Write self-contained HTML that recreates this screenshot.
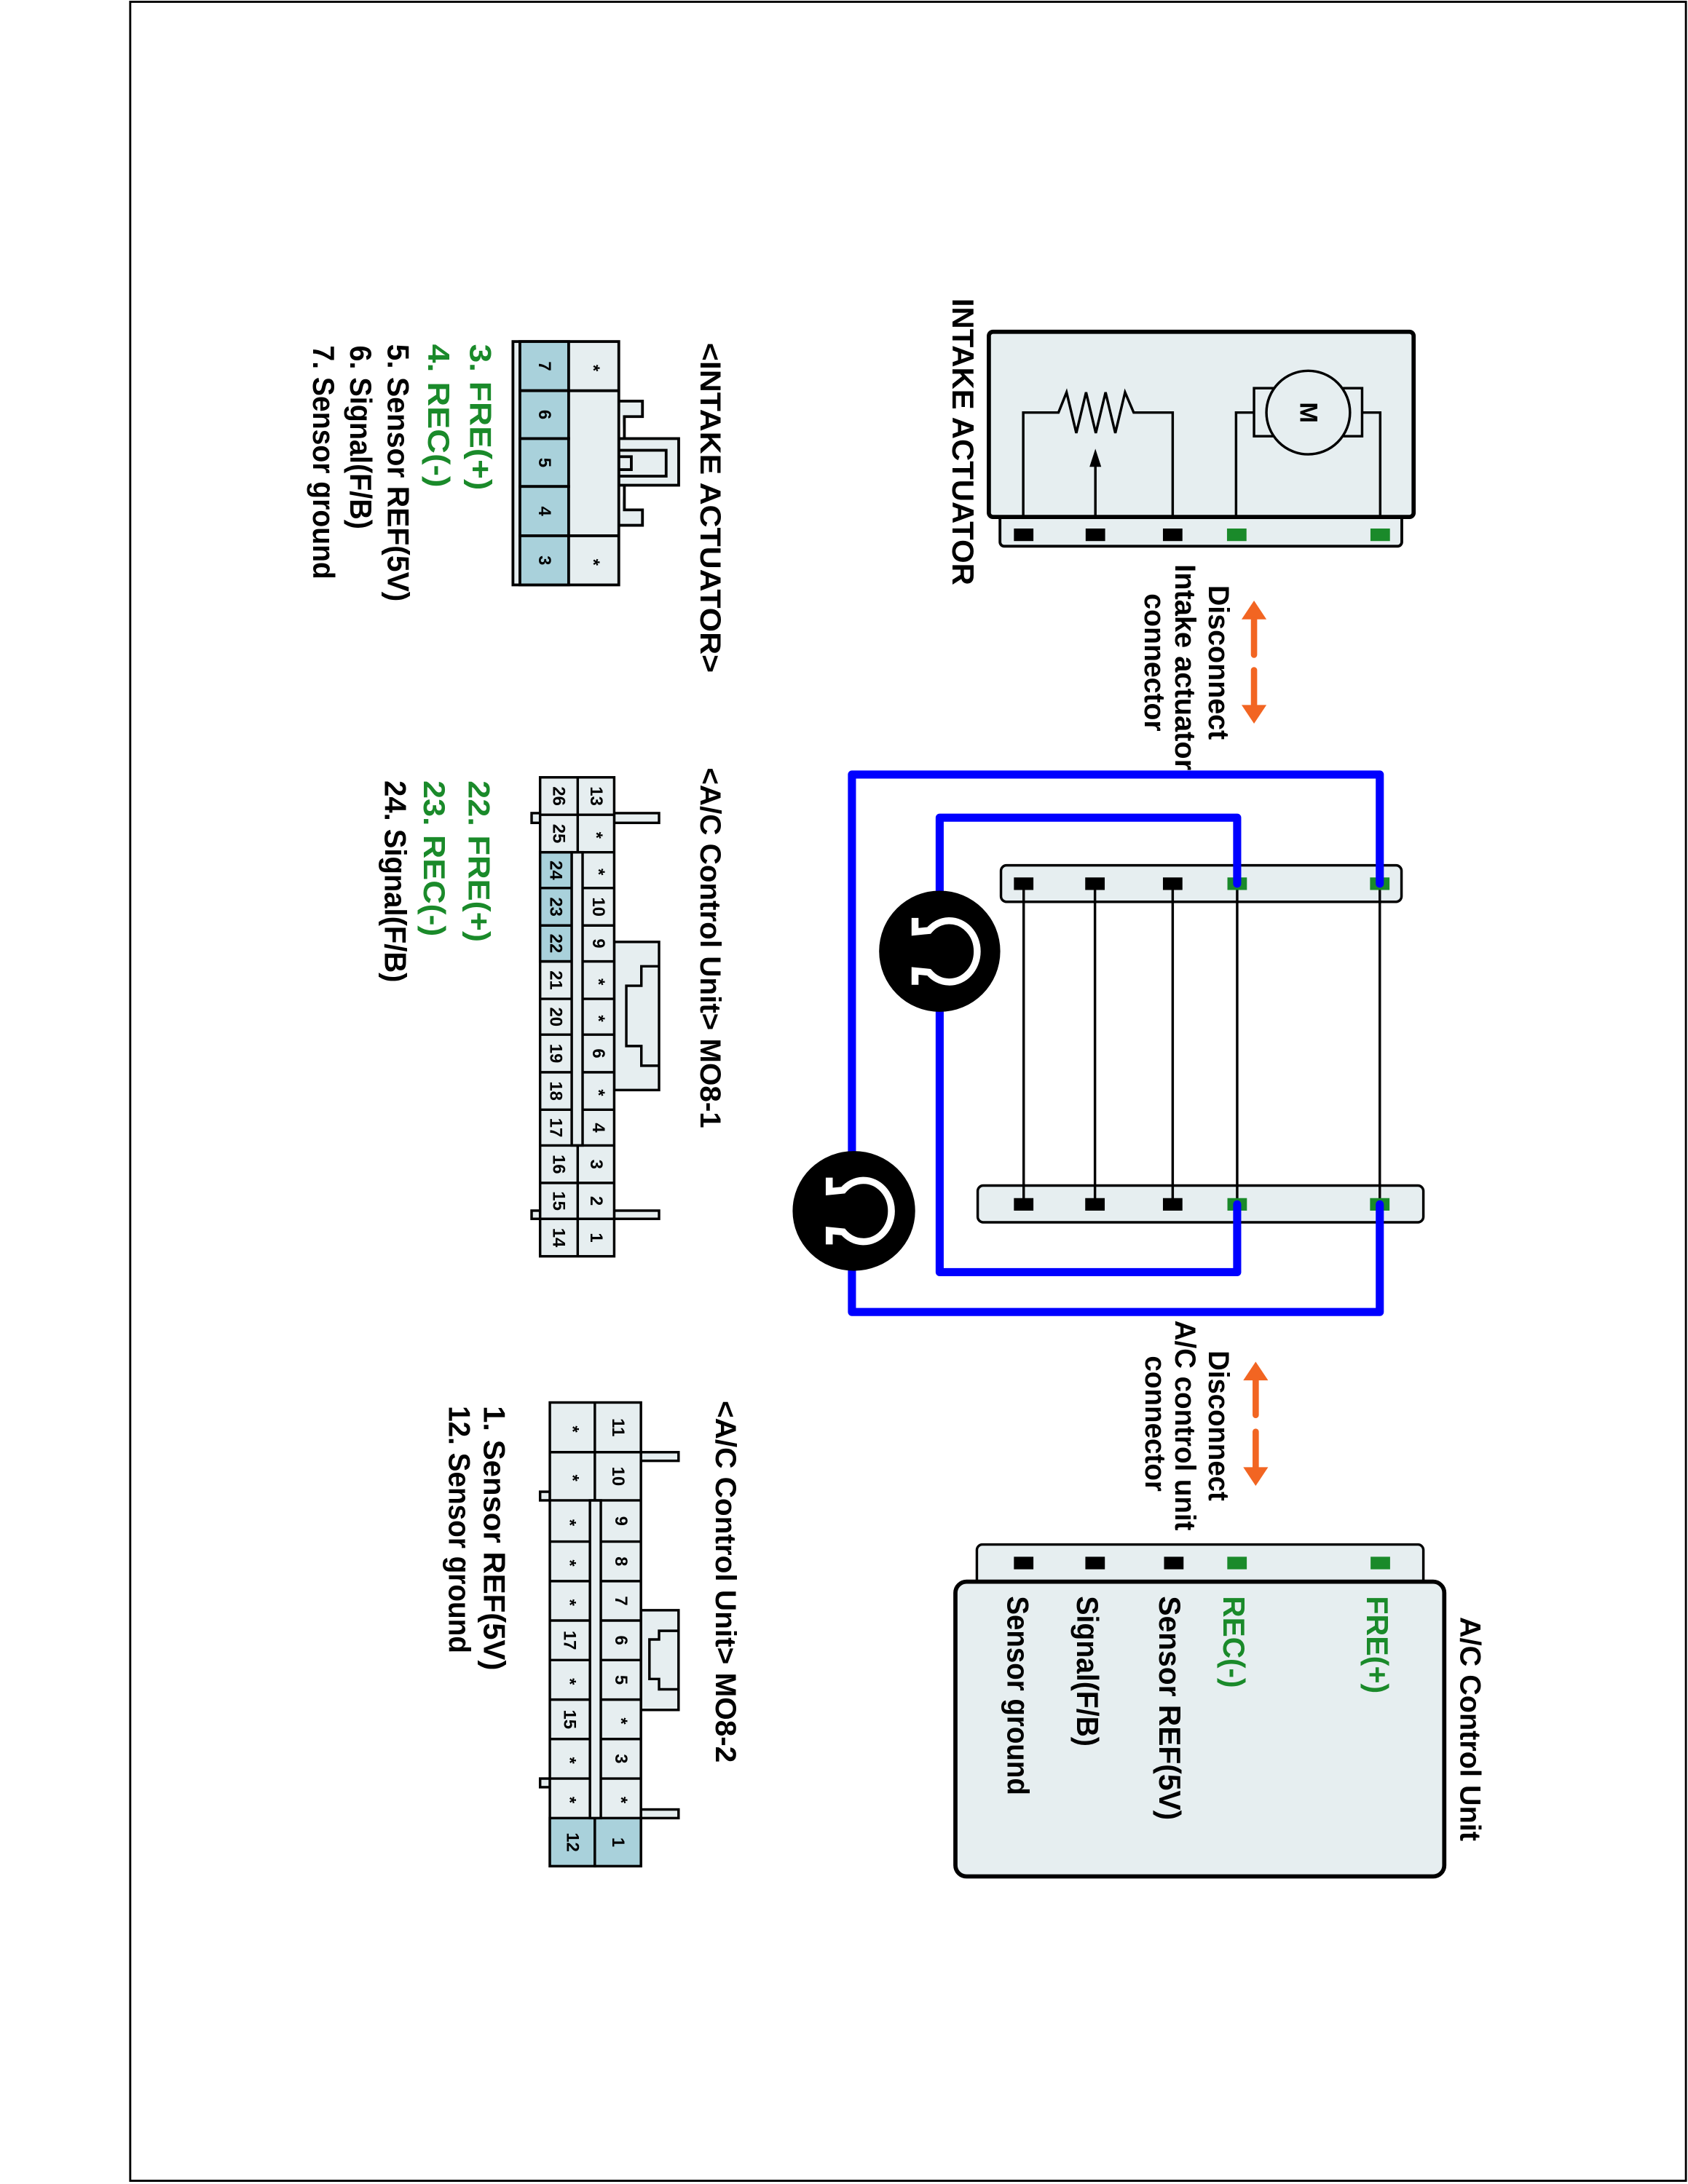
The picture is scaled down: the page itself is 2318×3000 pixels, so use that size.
<!DOCTYPE html>
<html><head><meta charset="utf-8"><style>
html,body{margin:0;padding:0;background:#fff}
svg{display:block}
text{font-family:"Liberation Sans",Arial,sans-serif;font-weight:bold}
</style></head><body>
<svg width="2318" height="3000" viewBox="0 0 1212 1568" xmlns="http://www.w3.org/2000/svg">
<defs>
<style>
.t{dominant-baseline:central}
.n{dominant-baseline:central;text-anchor:middle;font-size:12.5px;font-weight:bold}
.lf{fill:#e6eef0;stroke:#000;stroke-width:2}
.bl{fill:#a9d1db;stroke:#000;stroke-width:2}
.g{fill:#1a8a2a}
</style>
</defs>
<rect x="0" y="0" width="1212" height="1568" fill="#fff"/>
<rect x="93.5" y="1" width="1117" height="1565" fill="none" stroke="#000" stroke-width="1.5"/>

<!-- INTAKE ACTUATOR box -->
<rect x="718" y="362" width="288.5" height="30" rx="3" class="lf"/>
<rect x="710" y="238" width="305" height="133" rx="3" fill="#e6eef0" stroke="#000" stroke-width="3"/>
<g fill="none" stroke="#000" stroke-width="1.8">
<polyline points="734.7,370 734.7,296 760,296 765.8,281.5 772.8,310.7 779.8,281.5 786.8,310.7 793.8,281.5 800.8,310.7 807.8,281.5 814,296 842,296 842,370"/>
<line x1="786.5" y1="370" x2="786.5" y2="332"/>
<polyline points="887.5,370 887.5,296 900.4,296"/>
<rect x="900.4" y="278.5" width="77.6" height="34.5" fill="#e6eef0"/>
<polyline points="978,296 991,296 991,370"/>
<ellipse cx="939.3" cy="296" rx="30" ry="30" fill="#e6eef0"/>
</g>
<polygon points="786.5,322 782.3,335 790.7,335" fill="#000"/>
<text class="t" transform="translate(939.3,296) rotate(90)" text-anchor="middle" font-size="18">M</text>
<g>
<rect x="728" y="379.3" width="14" height="9" fill="#000"/>
<rect x="779.5" y="379.3" width="14" height="9" fill="#000"/>
<rect x="835" y="379.3" width="14" height="9" fill="#000"/>
<rect x="881" y="379.3" width="14" height="9" fill="#1a8a2a"/>
<rect x="984" y="379.3" width="14" height="9" fill="#1a8a2a"/>
</g>
<text class="t" transform="translate(691.5,214) rotate(90)" font-size="22" textLength="206" lengthAdjust="spacingAndGlyphs">INTAKE ACTUATOR</text>

<!-- Disconnect intake -->
<g fill="#f26522" stroke="#f26522" stroke-linecap="round">
<line x1="900.4" y1="441" x2="900.4" y2="470" stroke-width="4.5"/>
<polygon points="900.4,432 892.4,444 908.4,444" stroke-width="1"/>
<line x1="900.4" y1="481" x2="900.4" y2="510" stroke-width="4.5"/>
<polygon points="900.4,518.5 892.4,506.5 908.4,506.5" stroke-width="1"/>
</g>
<text class="t" transform="translate(875,420) rotate(90)" font-size="21" textLength="111" lengthAdjust="spacingAndGlyphs">Disconnect</text>
<text class="t" transform="translate(851,405) rotate(90)" font-size="21" textLength="148" lengthAdjust="spacingAndGlyphs">Intake actuator</text>
<text class="t" transform="translate(829,426) rotate(90)" font-size="21" textLength="99" lengthAdjust="spacingAndGlyphs">connector</text>

<!-- Middle connectors -->
<rect x="718.7" y="621.2" width="287.6" height="26.2" rx="4" fill="#e6eef0" stroke="#000" stroke-width="1.8"/>
<rect x="702" y="851.2" width="320" height="26.4" rx="4" fill="#e6eef0" stroke="#000" stroke-width="1.8"/>
<g stroke="#000" stroke-width="1.8">
<line x1="735" y1="634.4" x2="735" y2="864.7"/>
<line x1="786.2" y1="634.4" x2="786.2" y2="864.7"/>
<line x1="842" y1="634.4" x2="842" y2="864.7"/>
<line x1="888.3" y1="634.4" x2="888.3" y2="864.7"/>
<line x1="990.7" y1="634.4" x2="990.7" y2="864.7"/>
</g>
<g>
<rect x="728" y="629.9" width="14" height="9" fill="#000"/>
<rect x="779.2" y="629.9" width="14" height="9" fill="#000"/>
<rect x="835" y="629.9" width="14" height="9" fill="#000"/>
<rect x="881.3" y="629.9" width="14" height="9" fill="#1a8a2a"/>
<rect x="983.7" y="629.9" width="14" height="9" fill="#1a8a2a"/>
<rect x="728" y="860.2" width="14" height="9" fill="#000"/>
<rect x="779.2" y="860.2" width="14" height="9" fill="#000"/>
<rect x="835" y="860.2" width="14" height="9" fill="#000"/>
<rect x="881.3" y="860.2" width="14" height="9" fill="#1a8a2a"/>
<rect x="983.7" y="860.2" width="14" height="9" fill="#1a8a2a"/>
</g>
<g fill="none" stroke="#0000ff" stroke-width="5.8" stroke-linejoin="round" stroke-linecap="round">
<polyline points="990.7,634.4 990.7,556 611.7,556 611.7,942 990.7,942 990.7,864.7"/>
<polyline points="888.3,634.4 888.3,587 674.7,587 674.7,913.4 888.3,913.4 888.3,864.7"/>
</g>
<!-- shields -->
<ellipse cx="674.7" cy="682.9" rx="43.5" ry="43.5" fill="#000"/>
<ellipse cx="613.1" cy="869.4" rx="44" ry="43" fill="#000"/>
<g fill="none" stroke="#fff" stroke-width="5">
<path d="M657,659 V669 L667,668 A20,22 0 1,1 667,698 L657,697 V707"/>
<path d="M595.4,845.5 V855.5 L605.4,854.5 A20,22 0 1,1 605.4,884.5 L595.4,883.5 V893.5"/>
</g>

<!-- Disconnect AC -->
<g fill="#f26522" stroke="#f26522" stroke-linecap="round">
<line x1="901.6" y1="987" x2="901.6" y2="1016" stroke-width="4.5"/>
<polygon points="901.6,978.6 893.6,990.6 909.6,990.6" stroke-width="1"/>
<line x1="901.6" y1="1028" x2="901.6" y2="1057" stroke-width="4.5"/>
<polygon points="901.6,1066 893.6,1054 909.6,1054" stroke-width="1"/>
</g>
<text class="t" transform="translate(875,969.7) rotate(90)" font-size="21" textLength="108" lengthAdjust="spacingAndGlyphs">Disconnect</text>
<text class="t" transform="translate(851,948) rotate(90)" font-size="21" textLength="151" lengthAdjust="spacingAndGlyphs">A/C control unit</text>
<text class="t" transform="translate(829.5,973.5) rotate(90)" font-size="21" textLength="97.5" lengthAdjust="spacingAndGlyphs">connector</text>

<!-- AC control unit box -->
<rect x="701.4" y="1109" width="320.6" height="35" rx="4" fill="#e6eef0" stroke="#000" stroke-width="1.8"/>
<rect x="686" y="1135.7" width="351" height="211.7" rx="8" fill="#e6eef0" stroke="#000" stroke-width="3"/>
<g>
<rect x="728" y="1117.8" width="14" height="9" fill="#000"/>
<rect x="779.3" y="1117.8" width="14" height="9" fill="#000"/>
<rect x="835.8" y="1117.8" width="14" height="9" fill="#000"/>
<rect x="881.2" y="1117.8" width="14" height="9" fill="#1a8a2a"/>
<rect x="984.1" y="1117.8" width="14" height="9" fill="#1a8a2a"/>
</g>
<text class="t g" transform="translate(989,1146) rotate(90)" font-size="22" textLength="70" lengthAdjust="spacingAndGlyphs">FRE(+)</text>
<text class="t g" transform="translate(886,1146) rotate(90)" font-size="22" textLength="66" lengthAdjust="spacingAndGlyphs">REC(-)</text>
<text class="t" transform="translate(840,1146) rotate(90)" font-size="22" textLength="161" lengthAdjust="spacingAndGlyphs">Sensor REF(5V)</text>
<text class="t" transform="translate(781,1146) rotate(90)" font-size="22" textLength="108" lengthAdjust="spacingAndGlyphs">Signal(F/B)</text>
<text class="t" transform="translate(731,1146) rotate(90)" font-size="22" textLength="143" lengthAdjust="spacingAndGlyphs">Sensor ground</text>
<text class="t" transform="translate(1055.7,1161) rotate(90)" font-size="21" textLength="161" lengthAdjust="spacingAndGlyphs">A/C Control Unit</text>

<!-- INTAKE ACTUATOR connector -->
<text class="t" transform="translate(510,245.9) rotate(90)" font-size="21" textLength="237" lengthAdjust="spacingAndGlyphs">&lt;INTAKE ACTUATOR&gt;</text>
<g fill="#e6eef0" stroke="#000" stroke-width="2">
<path d="M444.3,287.8 H461.3 V298.9 H448.3 V314.7"/>
<path d="M444.3,377 H461.3 V365.9 H448.3 V348.2"/>
<rect x="444.3" y="314.7" width="43" height="33.5"/>
<rect x="444.3" y="323.1" width="34" height="18.6"/>
<rect x="444.3" y="327.7" width="9" height="9.3"/>
</g>
<rect x="368.3" y="245" width="76" height="174.8" class="lf"/>
<rect x="373.3" y="245" width="35" height="35.3" class="bl"/>
<rect x="373.3" y="280.3" width="35" height="34.4" class="bl"/>
<rect x="373.3" y="314.7" width="35" height="34.4" class="bl"/>
<rect x="373.3" y="349.1" width="35" height="35.4" class="bl"/>
<rect x="373.3" y="384.5" width="35" height="35.3" class="bl"/>
<line x1="408.3" y1="280.3" x2="444.3" y2="280.3" stroke="#000" stroke-width="2"/>
<line x1="408.3" y1="384.5" x2="444.3" y2="384.5" stroke="#000" stroke-width="2"/>
<g>
<text class="n" transform="translate(390.8,262.7) rotate(90)" font-size="13">7</text>
<text class="n" transform="translate(390.8,297.5) rotate(90)" font-size="13">6</text>
<text class="n" transform="translate(390.8,331.9) rotate(90)" font-size="13">5</text>
<text class="n" transform="translate(390.8,366.8) rotate(90)" font-size="13">4</text>
<text class="n" transform="translate(390.8,402.2) rotate(90)" font-size="13">3</text>
<text class="n" transform="translate(426,264) rotate(90)" font-size="17">*</text>
<text class="n" transform="translate(426,403.5) rotate(90)" font-size="17">*</text>
</g>
<text class="t g" transform="translate(345,246.8) rotate(90)" font-size="22" textLength="105" lengthAdjust="spacingAndGlyphs">3. FRE(+)</text>
<text class="t g" transform="translate(315,246.8) rotate(90)" font-size="22" textLength="103" lengthAdjust="spacingAndGlyphs">4. REC(-)</text>
<text class="t" transform="translate(286,246.8) rotate(90)" font-size="22" textLength="185" lengthAdjust="spacingAndGlyphs">5. Sensor REF(5V)</text>
<text class="t" transform="translate(259,247.8) rotate(90)" font-size="22" textLength="132" lengthAdjust="spacingAndGlyphs">6. Signal(F/B)</text>
<text class="t" transform="translate(232.5,247.8) rotate(90)" font-size="22" textLength="168" lengthAdjust="spacingAndGlyphs">7. Sensor ground</text>

<!-- MO8-1 -->
<text class="t" transform="translate(510,551) rotate(90)" font-size="21" textLength="259" lengthAdjust="spacingAndGlyphs">&lt;A/C Control Unit&gt; MO8-1</text>
<g fill="#e6eef0" stroke="#000" stroke-width="1.8">
<rect x="441" y="583.7" width="32.2" height="7"/>
<rect x="441" y="869.2" width="32.2" height="5.9"/>
<rect x="381.7" y="583.7" width="6.1" height="7"/>
<rect x="381.7" y="869.2" width="6.1" height="5.9"/>
<rect x="441" y="676.2" width="32.2" height="106.4"/>
<polyline fill="none" points="473.2,693.7 460.5,693.7 460.5,707.7 449.7,707.7 449.7,751 460.5,751 460.5,765.1 473.2,765.1"/>
<rect x="387.8" y="558" width="53.2" height="344"/>
<rect x="387.8" y="611.8" width="22.7" height="78.4" fill="#a9d1db"/>
<rect x="410.5" y="611.8" width="7.8" height="210.6"/>
</g>
<g stroke="#000" stroke-width="1.8">
<line x1="414.8" y1="558" x2="414.8" y2="611.8"/>
<line x1="414.8" y1="822.4" x2="414.8" y2="902"/>
<line x1="387.8" y1="584.9" x2="441" y2="584.9"/>
<line x1="387.8" y1="611.8" x2="441" y2="611.8"/>
<line x1="387.8" y1="822.4" x2="441" y2="822.4"/>
<line x1="387.8" y1="849.3" x2="441" y2="849.3"/>
<line x1="387.8" y1="875.1" x2="441" y2="875.1"/>
<line x1="387.8" y1="637.5" x2="410.5" y2="637.5"/><line x1="418.3" y1="637.5" x2="441" y2="637.5"/>
<line x1="387.8" y1="664.4" x2="410.5" y2="664.4"/><line x1="418.3" y1="664.4" x2="441" y2="664.4"/>
<line x1="387.8" y1="690.2" x2="410.5" y2="690.2"/><line x1="418.3" y1="690.2" x2="441" y2="690.2"/>
<line x1="387.8" y1="717.1" x2="410.5" y2="717.1"/><line x1="418.3" y1="717.1" x2="441" y2="717.1"/>
<line x1="387.8" y1="742.8" x2="410.5" y2="742.8"/><line x1="418.3" y1="742.8" x2="441" y2="742.8"/>
<line x1="387.8" y1="769.8" x2="410.5" y2="769.8"/><line x1="418.3" y1="769.8" x2="441" y2="769.8"/>
<line x1="387.8" y1="796.7" x2="410.5" y2="796.7"/><line x1="418.3" y1="796.7" x2="441" y2="796.7"/>
</g>
<g>
<text class="n" transform="translate(401,571.5) rotate(90)">26</text>
<text class="n" transform="translate(401,598.4) rotate(90)">25</text>
<text class="n" transform="translate(399,624.7) rotate(90)">24</text>
<text class="n" transform="translate(399,651) rotate(90)">23</text>
<text class="n" transform="translate(399,677.3) rotate(90)">22</text>
<text class="n" transform="translate(399,703.7) rotate(90)">21</text>
<text class="n" transform="translate(399,730) rotate(90)">20</text>
<text class="n" transform="translate(399,756.3) rotate(90)">19</text>
<text class="n" transform="translate(399,783.3) rotate(90)">18</text>
<text class="n" transform="translate(399,809.6) rotate(90)">17</text>
<text class="n" transform="translate(401,835.9) rotate(90)">16</text>
<text class="n" transform="translate(401,862.2) rotate(90)">15</text>
<text class="n" transform="translate(401,888.6) rotate(90)">14</text>
<text class="n" transform="translate(428,571.5) rotate(90)">13</text>
<text class="n" transform="translate(428,599.6) rotate(90)" font-size="16">*</text>
<text class="n" transform="translate(429.6,625.9) rotate(90)" font-size="16">*</text>
<text class="n" transform="translate(429.6,651) rotate(90)">10</text>
<text class="n" transform="translate(429.6,677.3) rotate(90)">9</text>
<text class="n" transform="translate(429.6,704.9) rotate(90)" font-size="16">*</text>
<text class="n" transform="translate(429.6,731.2) rotate(90)" font-size="16">*</text>
<text class="n" transform="translate(429.6,756.3) rotate(90)">6</text>
<text class="n" transform="translate(429.6,784.5) rotate(90)" font-size="16">*</text>
<text class="n" transform="translate(429.6,809.6) rotate(90)">4</text>
<text class="n" transform="translate(428,835.9) rotate(90)">3</text>
<text class="n" transform="translate(428,862.2) rotate(90)">2</text>
<text class="n" transform="translate(428,888.6) rotate(90)">1</text>
</g>
<text class="t g" transform="translate(344,560.3) rotate(90)" font-size="22" textLength="116" lengthAdjust="spacingAndGlyphs">22. FRE(+)</text>
<text class="t g" transform="translate(312,560.3) rotate(90)" font-size="22" textLength="112" lengthAdjust="spacingAndGlyphs">23. REC(-)</text>
<text class="t" transform="translate(284,560.3) rotate(90)" font-size="22" textLength="145" lengthAdjust="spacingAndGlyphs">24. Signal(F/B)</text>

<!-- MO8-2 -->
<text class="t" transform="translate(521,1005.7) rotate(90)" font-size="21" textLength="260" lengthAdjust="spacingAndGlyphs">&lt;A/C Control Unit&gt; MO8-2</text>
<g fill="#e6eef0" stroke="#000" stroke-width="1.8">
<rect x="460.2" y="1042.7" width="27" height="6.2"/>
<rect x="460.2" y="1299.3" width="27" height="6.2"/>
<rect x="387.8" y="1071.1" width="7" height="6.2"/>
<rect x="387.8" y="1277.1" width="7" height="6.2"/>
<rect x="460.2" y="1156.2" width="27" height="71.6"/>
<polyline fill="none" points="487.2,1171 473.2,1171 473.2,1177.2 466.3,1177.2 466.3,1205.6 473.2,1205.6 473.2,1213 487.2,1213"/>
<rect x="394.8" y="1007" width="65.4" height="333"/>
<rect x="394.8" y="1305.5" width="32.3" height="34.5" fill="#a9d1db"/>
<rect x="427.1" y="1305.5" width="33.1" height="34.5" fill="#a9d1db"/>
<rect x="423.6" y="1077.3" width="7.8" height="228.2"/>
</g>
<g stroke="#000" stroke-width="1.8">
<line x1="427.1" y1="1007" x2="427.1" y2="1077.3"/>
<line x1="394.8" y1="1042.7" x2="460.2" y2="1042.7"/>
<line x1="394.8" y1="1077.3" x2="460.2" y2="1077.3"/>
<line x1="394.8" y1="1106.9" x2="423.6" y2="1106.9"/><line x1="431.4" y1="1106.9" x2="460.2" y2="1106.9"/>
<line x1="394.8" y1="1135.3" x2="423.6" y2="1135.3"/><line x1="431.4" y1="1135.3" x2="460.2" y2="1135.3"/>
<line x1="394.8" y1="1163.6" x2="423.6" y2="1163.6"/><line x1="431.4" y1="1163.6" x2="460.2" y2="1163.6"/>
<line x1="394.8" y1="1192" x2="423.6" y2="1192"/><line x1="431.4" y1="1192" x2="460.2" y2="1192"/>
<line x1="394.8" y1="1220.4" x2="423.6" y2="1220.4"/><line x1="431.4" y1="1220.4" x2="460.2" y2="1220.4"/>
<line x1="394.8" y1="1248.7" x2="423.6" y2="1248.7"/><line x1="431.4" y1="1248.7" x2="460.2" y2="1248.7"/>
<line x1="394.8" y1="1277.1" x2="423.6" y2="1277.1"/><line x1="431.4" y1="1277.1" x2="460.2" y2="1277.1"/>
</g>
<g>
<text class="n" transform="translate(443.6,1024.9) rotate(90)">11</text>
<text class="n" transform="translate(443.6,1060) rotate(90)">10</text>
<text class="n" transform="translate(445.8,1092.1) rotate(90)">9</text>
<text class="n" transform="translate(445.8,1121.1) rotate(90)">8</text>
<text class="n" transform="translate(445.8,1149.5) rotate(90)">7</text>
<text class="n" transform="translate(445.8,1177.8) rotate(90)">6</text>
<text class="n" transform="translate(445.8,1206.2) rotate(90)">5</text>
<text class="n" transform="translate(445.8,1235.8) rotate(90)" font-size="16">*</text>
<text class="n" transform="translate(445.8,1262.9) rotate(90)">3</text>
<text class="n" transform="translate(445.8,1292.5) rotate(90)" font-size="16">*</text>
<text class="n" transform="translate(443.6,1322.8) rotate(90)">1</text>
<text class="n" transform="translate(411,1026.1) rotate(90)" font-size="16">*</text>
<text class="n" transform="translate(411,1061.2) rotate(90)" font-size="16">*</text>
<text class="n" transform="translate(409,1093.3) rotate(90)" font-size="16">*</text>
<text class="n" transform="translate(409,1122.3) rotate(90)" font-size="16">*</text>
<text class="n" transform="translate(409,1150.7) rotate(90)" font-size="16">*</text>
<text class="n" transform="translate(409,1177.8) rotate(90)">17</text>
<text class="n" transform="translate(409,1207.4) rotate(90)" font-size="16">*</text>
<text class="n" transform="translate(409,1234.6) rotate(90)">15</text>
<text class="n" transform="translate(409,1264.1) rotate(90)" font-size="16">*</text>
<text class="n" transform="translate(409,1292.5) rotate(90)" font-size="16">*</text>
<text class="n" transform="translate(411,1322.8) rotate(90)">12</text>
</g>
<text class="t" transform="translate(355,1009.4) rotate(90)" font-size="22" textLength="190" lengthAdjust="spacingAndGlyphs">1. Sensor REF(5V)</text>
<text class="t" transform="translate(330,1009.4) rotate(90)" font-size="22" textLength="177.7" lengthAdjust="spacingAndGlyphs">12. Sensor ground</text>
</svg>
</body></html>
